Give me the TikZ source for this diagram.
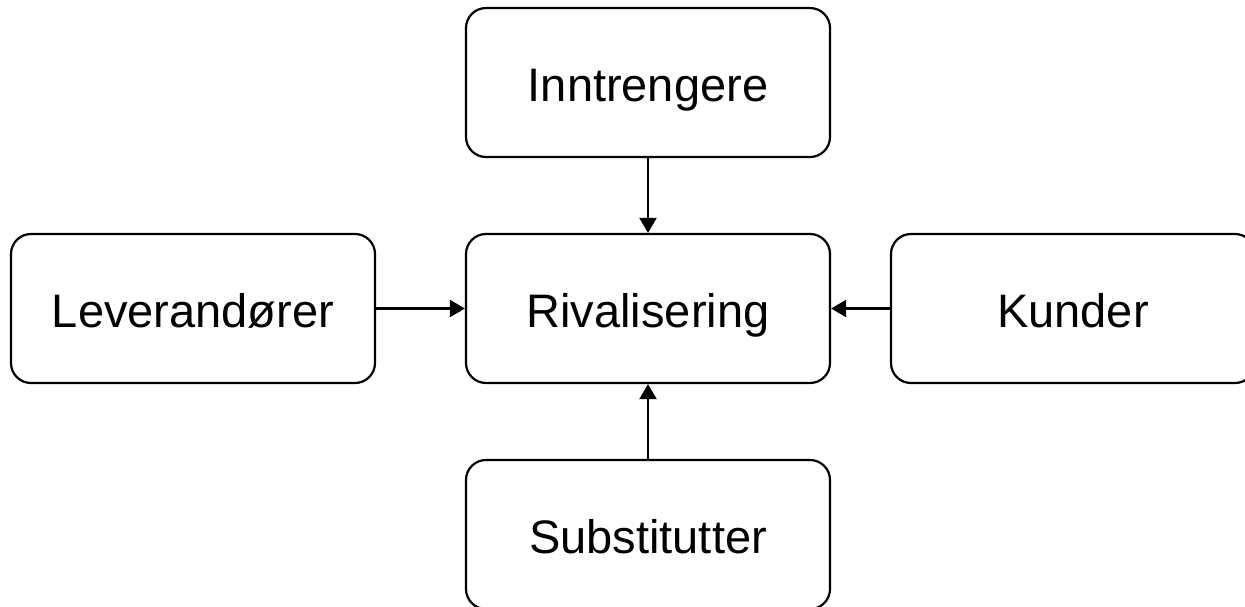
\documentclass[tikz,border=0pt]{standalone}
\usepackage{fontspec}
\setmainfont{Liberation Sans}
\usetikzlibrary{arrows.meta}
\begin{document}
\begin{tikzpicture}[x=1pt,y=-1pt,
  force/.style={draw=black, line width=2.2pt, rounded corners=20pt,
    minimum width=364pt, minimum height=149pt, inner sep=0pt,
    font=\fontsize{47}{56}\selectfont, text height=37pt, text depth=0pt},
  pull/.style={line width=2.2pt, -{Triangle[length=15pt,width=17pt]}}]
  \useasboundingbox (0,0) rectangle (1245,606);
  \clip (0,0) rectangle (1245,606);
  \node[force] (inn) at (648,82.5) {Inntrengere};
  \node[force] (lev) at (193,308.5) {Leverandører};
  \node[force] (riv) at (648,308.5) {Rivalisering};
  \node[force] (kun) at (1073,308.5) {Kunder};
  \node[force] (sub) at (648,534.5) {Substitutter};
  \draw[pull] (inn.south) -- (riv.north);
  \draw[pull] (lev.east) -- (riv.west);
  \draw[pull] (kun.west) -- (riv.east);
  \draw[pull] (sub.north) -- (riv.south);
\end{tikzpicture}
\end{document}
